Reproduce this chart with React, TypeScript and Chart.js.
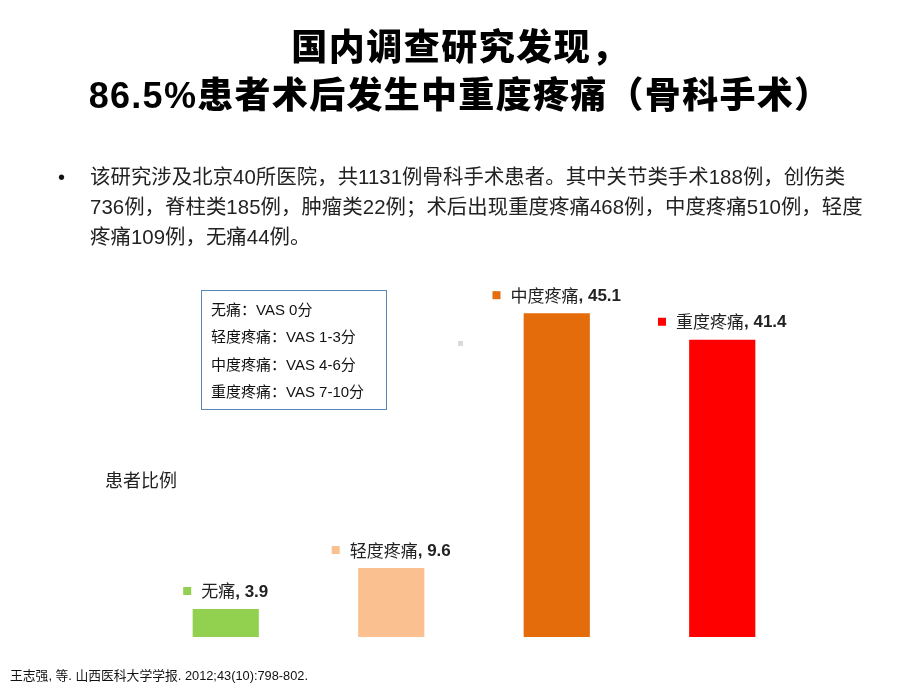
import React, { useEffect, useRef } from "react";
import { Chart, registerables } from "chart.js";

Chart.register(...registerables);

const categories = ["无痛", "轻度疼痛", "中度疼痛", "重度疼痛"];
const percentValues = [3.9, 9.6, 45.1, 41.4];
const barColors = ["#92D050", "#FAC090", "#E46C0A", "#FF0000"];
const scaleLabels = [
  "无痛：VAS 0分",
  "轻度疼痛：VAS 1-3分",
  "中度疼痛：VAS 4-6分",
  "重度疼痛：VAS 7-10分",
];
const titleLines = ["国内调查研究发现，", "86.5%患者术后发生中重度疼痛（骨科手术）"];
const bulletLines = [
  "该研究涉及北京40所医院，共1131例骨科手术患者。其中关节类手术188例，创伤类",
  "736例，脊柱类185例，肿瘤类22例；术后出现重度疼痛468例，中度疼痛510例，轻度",
  "疼痛109例，无痛44例。",
];
const yAxisTitle = "患者比例";
const citation = "王志强, 等. 山西医科大学学报. 2012;43(10):798-802.";

const CJK = '"Noto Sans CJK SC", "Liberation Sans", Arial, sans-serif';
const LATIN = '"Liberation Sans", Arial, "Noto Sans CJK SC", sans-serif';

const labelPlugin = {
  id: "barLabels",
  afterDatasetsDraw(chart: any) {
    const ctx = chart.ctx;
    const meta = chart.getDatasetMeta(0);
    const ds = chart.data.datasets[0];
    meta.data.forEach((bar: any, i: number) => {
      const name = chart.data.labels[i];
      const val = ", " + ds.data[i];
      ctx.save();
      ctx.font = `17px ${CJK}`;
      const nameW = ctx.measureText(name).width;
      ctx.font = `bold 17px ${LATIN}`;
      const valW = ctx.measureText(val).width;
      const marker = 8;
      const gap = 10;
      const total = marker + gap + nameW + valW;
      let x = bar.x - total / 2;
      const y = bar.y - 18;
      ctx.fillStyle = ds.backgroundColor[i];
      ctx.fillRect(x, y - 4, marker, marker);
      x += marker + gap;
      ctx.textBaseline = "middle";
      ctx.textAlign = "left";
      ctx.fillStyle = "#222";
      ctx.font = `17px ${CJK}`;
      ctx.fillText(name, x, y);
      ctx.font = `bold 17px ${LATIN}`;
      ctx.fillText(val, x + nameW, y + 1);
      ctx.restore();
    });
  },
};

export default function App() {
  const canvasRef = useRef<HTMLCanvasElement | null>(null);

  useEffect(() => {
    if (!canvasRef.current) return;
    const chart = new Chart(canvasRef.current, {
      type: "bar",
      data: {
        labels: categories,
        datasets: [
          {
            data: percentValues,
            backgroundColor: barColors,
            borderWidth: 0,
            barPercentage: 0.8,
            categoryPercentage: 0.5,
          },
        ],
      },
      options: {
        responsive: false,
        animation: false,
        events: [],
        layout: { padding: { left: 143, right: 115, top: 278, bottom: 53 } },
        plugins: { legend: { display: false }, tooltip: { enabled: false } },
        scales: {
          x: { display: false },
          y: { display: false, min: 0, max: 50 },
        },
      },
      plugins: [labelPlugin],
    });
    return () => chart.destroy();
  }, []);

  return (
    <div
      style={{
        position: "fixed",
        left: 0,
        top: 0,
        width: 920,
        height: 690,
        background: "#fff",
        overflow: "hidden",
        fontFamily: CJK,
        color: "#111",
      }}
    >
      <canvas
        ref={canvasRef}
        width={920}
        height={690}
        style={{ position: "absolute", left: 0, top: 0 }}
      />
      {titleLines.map((t, i) => (
        <div
          key={i}
          style={{
            position: "absolute",
            left: 0,
            width: 920,
            top: 27 + i * 48,
            textAlign: "center",
            fontSize: 36,
            fontWeight: 900,
            lineHeight: "42px",
            letterSpacing: i === 0 ? 1.5 : 1.3,
            fontFamily: `"Liberation Sans", ${CJK}`,
            color: "#000",
            whiteSpace: "nowrap",
          }}
        >
          {t}
        </div>
      ))}
      <div
        style={{
          position: "absolute",
          left: 58,
          top: 162,
          fontSize: 20,
          lineHeight: "30px",
          fontFamily: LATIN,
        }}
      >
        •
      </div>
      {bulletLines.map((t, i) => (
        <div
          key={i}
          style={{
            position: "absolute",
            left: 90,
            top: 162 + i * 30,
            fontSize: 20.4,
            letterSpacing: 0.05,
            lineHeight: "30px",
            whiteSpace: "nowrap",
            fontFamily: `"Liberation Sans", ${CJK}`,
            color: "#222",
          }}
        >
          {t}
        </div>
      ))}
      <div
        style={{
          position: "absolute",
          left: 201,
          top: 290,
          width: 186,
          height: 120,
          border: "1.5px solid #5B86B5",
          boxSizing: "border-box",
        }}
      >
        {scaleLabels.map((t, i) => (
          <div
            key={i}
            style={{
              position: "absolute",
              left: 9,
              top: 9 + i * 27.3,
              fontSize: 15,
              lineHeight: "20px",
              whiteSpace: "nowrap",
              fontFamily: `"Liberation Sans", ${CJK}`,
              color: "#111",
            }}
          >
            {t}
          </div>
        ))}
      </div>
      <div
        style={{
          position: "absolute",
          left: 458,
          top: 341,
          width: 5,
          height: 5,
          background: "#DADADA",
        }}
      />
      <div
        style={{
          position: "absolute",
          left: 105,
          top: 467,
          fontSize: 18,
          lineHeight: "24px",
          color: "#222",
          whiteSpace: "nowrap",
        }}
      >
        {yAxisTitle}
      </div>
      <div
        style={{
          position: "absolute",
          left: 10,
          top: 667,
          fontSize: 12.8,
          lineHeight: "18px",
          whiteSpace: "nowrap",
          fontFamily: `"Liberation Sans", ${CJK}`,
          color: "#111",
        }}
      >
        {citation}
      </div>
    </div>
  );
}
